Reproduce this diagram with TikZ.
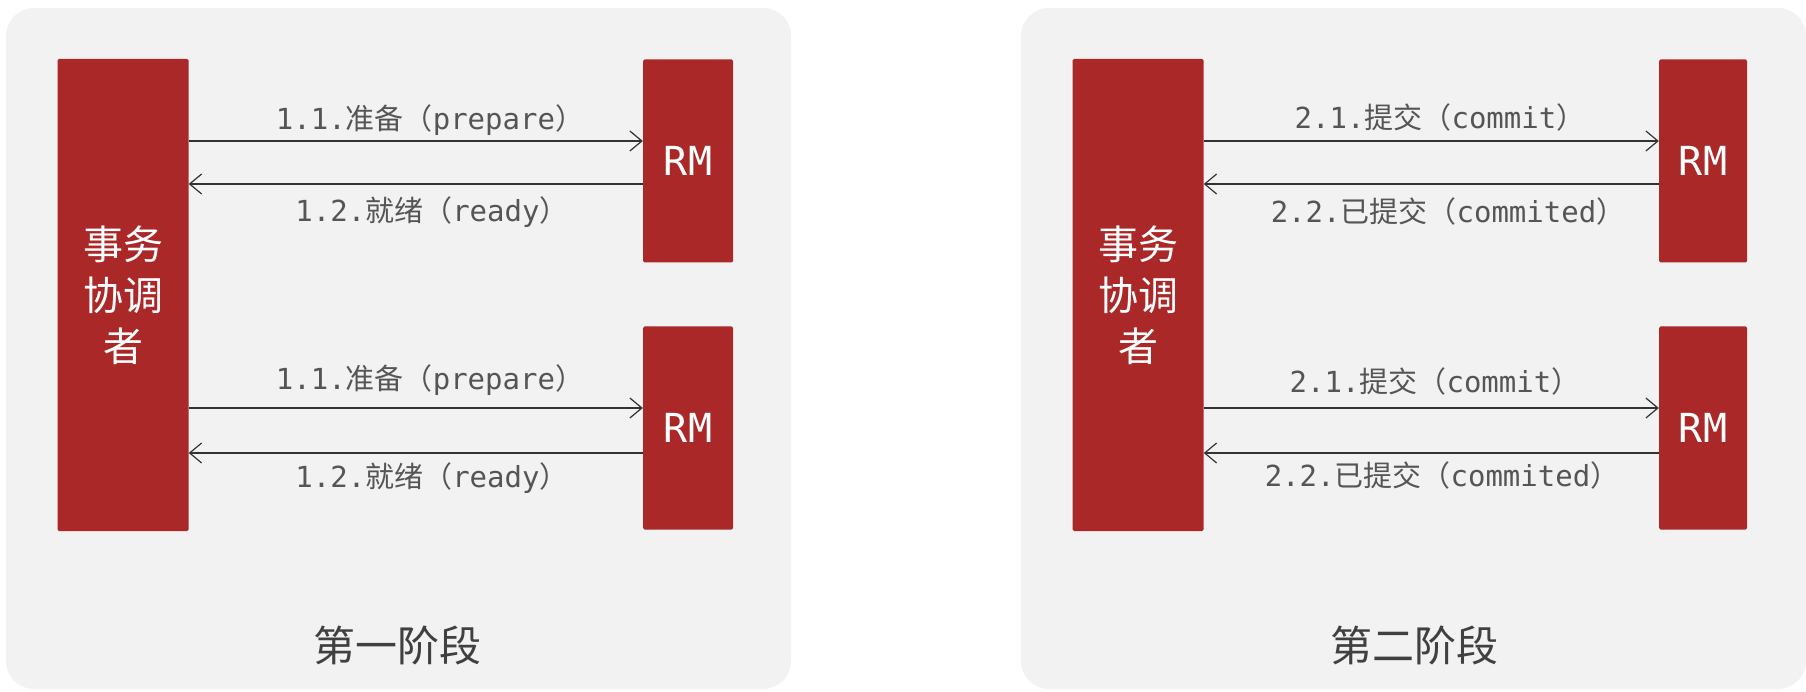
\documentclass[tikz,border=0pt]{standalone}
\usepackage{fontspec}
\usetikzlibrary{arrows.meta}
\newfontfamily\cjk{Noto Sans CJK SC}
\newfontfamily\monof{DejaVu Sans Mono}
\definecolor{boxred}{HTML}{AB2828}
\definecolor{panelbg}{HTML}{F2F2F2}
\definecolor{labgray}{HTML}{555555}
\definecolor{capgray}{HTML}{404040}
\definecolor{arrgray}{HTML}{333333}
\newcommand{\lbl}[3]{{\monof #1}{\cjk #2（}{\monof #3}{\cjk ）}}
\tikzset{
  panel/.style={fill=panelbg, draw=none, rounded corners=28pt},
  coordbox/.style={fill=boxred, draw=none, rounded corners=1.5pt, inner sep=0pt, text=white,
    font=\cjk\fontsize{40}{51}\selectfont, align=center},
  rmbox/.style={fill=boxred, draw=none, rounded corners=1.5pt, inner sep=0pt, text=white,
    font=\monof\fontsize{40}{44}\selectfont},
  msg/.style={draw=arrgray, line width=1.2pt, -{Straight Barb[length=12pt,width=20pt,line width=1.2pt]}},
  lab/.style={text=labgray, inner sep=0pt, font=\fontsize{29}{32}\selectfont},
  phasecap/.style={text=capgray, inner sep=0pt, font=\cjk\fontsize{42}{46}\selectfont}
}
\begin{document}
\begin{tikzpicture}[x=1pt,y=-1pt]
\useasboundingbox[fill=white] (0,0) rectangle (1806,692);
% panels
\path[panel] (6,8) rectangle (791,689);
\path[panel] (1021,8) rectangle (1806,689);
% left panel
\node[coordbox, minimum width=131pt, minimum height=472pt] (c1) at (123,295) {事务\\协调\\者};
\node[rmbox, minimum width=90pt, minimum height=203pt] (rm1a) at (688,161) {RM};
\node[rmbox, minimum width=90pt, minimum height=203pt] (rm1b) at (688,428) {RM};
\draw[msg] (c1.east |- 0,141) -- (rm1a.west |- 0,141);
\draw[msg] (rm1a.west |- 0,184) -- (c1.east |- 0,184);
\draw[msg] (c1.east |- 0,408) -- (rm1b.west |- 0,408);
\draw[msg] (rm1b.west |- 0,453) -- (c1.east |- 0,453);
\node[lab] (l11a) at (430,120) {\lbl{1.1.}{准备}{prepare}};
\node[lab] (l12a) at (432,212) {\lbl{1.2.}{就绪}{ready}};
\node[lab] (l11b) at (430,380) {\lbl{1.1.}{准备}{prepare}};
\node[lab] (l12b) at (432,478) {\lbl{1.2.}{就绪}{ready}};
\node[phasecap] (cap1) at (397,645) {第一阶段};
% right panel
\node[coordbox, minimum width=131pt, minimum height=472pt] (c2) at (1138,295) {事务\\协调\\者};
\node[rmbox, minimum width=88pt, minimum height=203pt] (rm2a) at (1703,161) {RM};
\node[rmbox, minimum width=88pt, minimum height=203pt] (rm2b) at (1703,428) {RM};
\draw[msg] (c2.east |- 0,141) -- (rm2a.west |- 0,141);
\draw[msg] (rm2a.west |- 0,184) -- (c2.east |- 0,184);
\draw[msg] (c2.east |- 0,408) -- (rm2b.west |- 0,408);
\draw[msg] (rm2b.west |- 0,453) -- (c2.east |- 0,453);
\node[lab] (l21a) at (1440,117) {\lbl{2.1.}{提交}{commit}};
\node[lab] (l22a) at (1448,211) {\lbl{2.2.}{已提交}{commited}};
\node[lab] (l21b) at (1435,381) {\lbl{2.1.}{提交}{commit}};
\node[lab] (l22b) at (1442,475) {\lbl{2.2.}{已提交}{commited}};
\node[phasecap] (cap2) at (1414,645) {第二阶段};
\end{tikzpicture}
\end{document}
